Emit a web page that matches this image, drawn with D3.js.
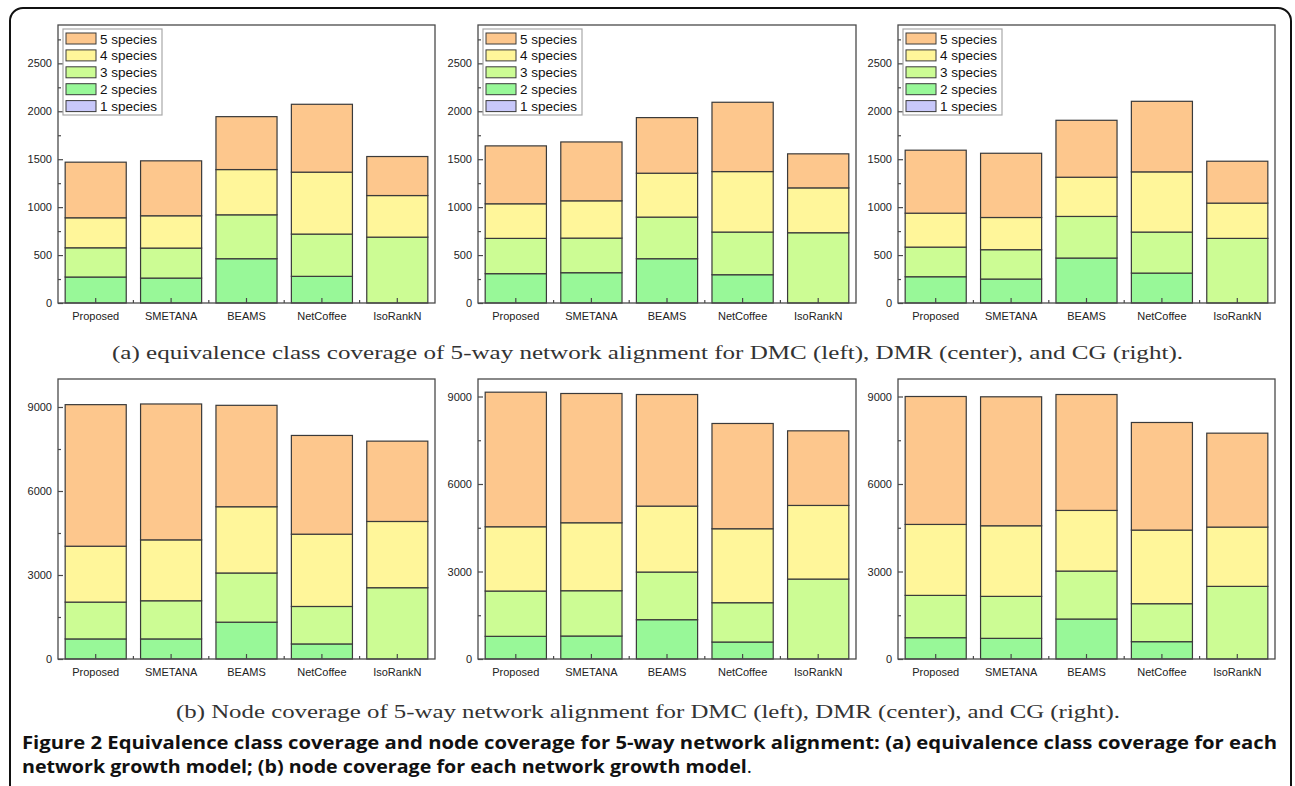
<!DOCTYPE html>
<html><head><meta charset="utf-8">
<script src="https://cdn.jsdelivr.net/npm/d3@7/dist/d3.min.js"></script>
<style>
html,body{margin:0;padding:0;background:#fff;}
svg{display:block;}
</style></head>
<body>
<svg id="fig" width="1295" height="786"></svg>
<script>
// ---------- DATA ----------
const categories = ["Proposed", "SMETANA", "BEAMS", "NetCoffee", "IsoRankN"];
const seriesNames = ["1 species", "2 species", "3 species", "4 species", "5 species"];
const seriesColors = ["#c8c8fa", "#98f898", "#ccfc94", "#fff69a", "#fdc78d"];

// segment values per series (1..5 species), per category
// (a) equivalence class coverage
const ecDMC = [
  [0, 0, 0, 0, 0],
  [271, 260, 462, 278, 0],
  [305, 313, 458, 441, 687],
  [313, 337, 472, 646, 434],
  [580, 573, 552, 708, 407]
];
const ecDMR = [
  [0, 0, 0, 0, 0],
  [306, 316, 462, 295, 0],
  [368, 361, 434, 445, 733],
  [361, 389, 458, 631, 468],
  [604, 614, 580, 723, 355]
];
const ecCG = [
  [0, 0, 0, 0, 0],
  [274, 250, 469, 312, 0],
  [309, 306, 434, 428, 674],
  [354, 336, 409, 628, 368],
  [657, 670, 594, 736, 437]
];
// (b) node coverage
const ncDMC = [
  [0, 0, 0, 0, 0],
  [717, 717, 1315, 538, 0],
  [1315, 1363, 1757, 1338, 2546],
  [1996, 2175, 2366, 2582, 2366],
  [5056, 4853, 3622, 3526, 2869]
];
const ncDMR = [
  [0, 0, 0, 0, 0],
  [777, 788, 1348, 582, 0],
  [1553, 1553, 1633, 1348, 2741],
  [2204, 2330, 2261, 2536, 2524],
  [4614, 4432, 3826, 3609, 2558]
];
const ncCG = [
  [0, 0, 0, 0, 0],
  [731, 708, 1371, 594, 0],
  [1450, 1439, 1644, 1302, 2490],
  [2433, 2421, 2079, 2524, 2033],
  [4386, 4422, 3974, 3689, 3220]
];

const ecTicks = [0, 500, 1000, 1500, 2000, 2500];
const ncTicks = [0, 3000, 6000, 9000];

const captionA = "(a) equivalence class coverage of 5-way network alignment for DMC (left), DMR (center), and CG (right).";
const captionB = "(b) Node coverage of 5-way network alignment for DMC (left), DMR (center), and CG (right).";
const figLabel = "Figure 2";
const figLine1 = " Equivalence class coverage and node coverage for 5-way network alignment: (a) equivalence class coverage for each";
const figLine2 = "network growth model; (b) node coverage for each network growth model";

// ---------- DRAW ----------
const svg = d3.select("#fig");

// outer rounded border
svg.append("rect").attr("x", 10).attr("y", 8).attr("width", 1281).attr("height", 820)
  .attr("rx", 13).attr("fill", "none").attr("stroke", "#111").attr("stroke-width", 2);

const tickFont = "Liberation Sans, Arial, sans-serif";

function panel(values, opts) {
  const {x0, x1, y0, y1, ymax, ticks, minorStep, legend} = opts;
  const g = svg.append("g");
  const x = d3.scaleBand().domain(categories).range([x0, x1]).paddingInner(0.19).paddingOuter(0.095);
  const y = d3.scaleLinear().domain([0, ymax]).range([y1, y0]);

  const rows = categories.map((c, i) => {
    const r = {cat: c};
    seriesNames.forEach((s, k) => r[s] = values[k][i]);
    return r;
  });
  const stacked = d3.stack().keys(seriesNames)(rows);

  stacked.forEach((layer, k) => {
    g.append("g").selectAll("rect").data(layer).join("rect")
      .attr("x", d => x(d.data.cat))
      .attr("width", x.bandwidth())
      .attr("y", d => y(d[1]))
      .attr("height", d => Math.max(0, y(d[0]) - y(d[1])))
      .attr("fill", seriesColors[k])
      .attr("stroke", d => (d[1] - d[0]) > 0 ? "#3a3a3a" : "none")
      .attr("stroke-width", 1.2);
  });

  // frame
  g.append("rect").attr("x", x0).attr("y", y0).attr("width", x1 - x0).attr("height", y1 - y0)
    .attr("fill", "none").attr("stroke", "#4a4a4a").attr("stroke-width", 1.3);

  // y axis
  const yAxis = d3.axisLeft(y).tickValues(ticks).tickSize(-5).tickPadding(6).tickFormat(d3.format("d"));
  const ya = g.append("g").attr("transform", `translate(${x0},0)`).call(yAxis);
  ya.select(".domain").remove();
  ya.selectAll("line").attr("stroke", "#4a4a4a").attr("stroke-width", 1.2);
  ya.selectAll("text").attr("font-family", tickFont).attr("font-size", 11).attr("fill", "#222");
  const minors = d3.range(minorStep, ymax, minorStep * 2);
  const yMinor = d3.axisLeft(y).tickValues(minors).tickSize(-3).tickFormat("");
  const ym = g.append("g").attr("transform", `translate(${x0},0)`).call(yMinor);
  ym.select(".domain").remove();
  ym.selectAll("line").attr("stroke", "#4a4a4a").attr("stroke-width", 1.2);

  // x axis
  const xAxis = d3.axisBottom(x).tickSize(-5).tickPadding(9);
  const xa = g.append("g").attr("transform", `translate(0,${y1})`).call(xAxis);
  xa.select(".domain").remove();
  xa.selectAll("line").attr("stroke", "#4a4a4a").attr("stroke-width", 1.2);
  xa.selectAll("text").attr("font-family", tickFont).attr("font-size", 11).attr("fill", "#222");
  // x minor ticks between categories
  const step = x.step();
  const between = categories.slice(1).map(c => x(c) - (step - x.bandwidth()) / 2);
  g.append("g").selectAll("line").data(between).join("line")
    .attr("x1", d => d).attr("x2", d => d).attr("y1", y1).attr("y2", y1 - 3)
    .attr("stroke", "#4a4a4a").attr("stroke-width", 1.2);

  if (legend) {
    const lx = x0 + 5, ly = y0 + 4;
    const lg = g.append("g");
    lg.append("rect").attr("x", lx).attr("y", ly).attr("width", 99).attr("height", 86)
      .attr("fill", "#fff").attr("stroke", "#a8a8a8").attr("stroke-width", 1.2);
    const order = seriesNames.map((s, k) => k).reverse();
    order.forEach((k, j) => {
      const cy = ly + 9.5 + j * 16.9;
      lg.append("rect").attr("x", lx + 3).attr("y", cy - 5.5).attr("width", 30).attr("height", 11)
        .attr("fill", seriesColors[k]).attr("stroke", "#3a3a3a").attr("stroke-width", 1);
      lg.append("text").attr("x", lx + 37).attr("y", cy + 5)
        .attr("font-family", tickFont).attr("font-size", 13.5).attr("fill", "#111")
        .text(seriesNames[k]);
    });
  }
}

const colsX = [[58, 435], [478, 856], [898, 1275]];
[ecDMC, ecDMR, ecCG].forEach((v, i) => panel(v, {
  x0: colsX[i][0], x1: colsX[i][1], y0: 25, y1: 303, ymax: 2900, ticks: ecTicks, minorStep: 250, legend: true
}));
const ncMax = [10000, 9600, 9600];
[ncDMC, ncDMR, ncCG].forEach((v, i) => panel(v, {
  x0: colsX[i][0], x1: colsX[i][1], y0: 379, y1: 659, ymax: ncMax[i], ticks: ncTicks, minorStep: 1500, legend: false
}));

// captions
svg.append("text").attr("x", 112).attr("y", 359).attr("textLength", 1071).attr("lengthAdjust", "spacingAndGlyphs")
  .attr("font-family", "Liberation Serif, serif").attr("font-size", 18).attr("fill", "#333").text(captionA);
svg.append("text").attr("x", 176).attr("y", 718).attr("textLength", 944).attr("lengthAdjust", "spacingAndGlyphs")
  .attr("font-family", "Liberation Serif, serif").attr("font-size", 18).attr("fill", "#333").text(captionB);

const t1 = svg.append("text").attr("x", 22).attr("y", 749).attr("textLength", 1255).attr("lengthAdjust", "spacingAndGlyphs")
  .attr("font-family", "Open Sans, sans-serif").attr("font-size", 18).attr("font-weight", "bold").attr("fill", "#111");
t1.append("tspan").text(figLabel);
t1.append("tspan").text(figLine1);
const t2 = svg.append("text").attr("x", 22).attr("y", 773).attr("textLength", 730).attr("lengthAdjust", "spacingAndGlyphs")
  .attr("font-family", "Open Sans, sans-serif").attr("font-size", 18).attr("font-weight", "bold").attr("fill", "#111");
t2.append("tspan").text(figLine2);
t2.append("tspan").attr("font-weight", "normal").text(".");
</script>
</body></html>
